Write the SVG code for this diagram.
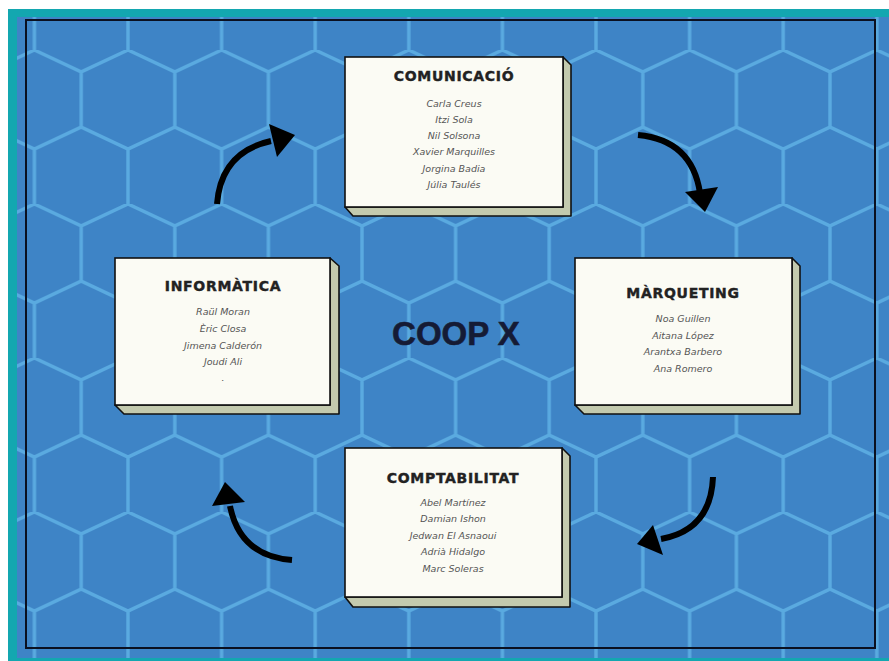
<svg xmlns="http://www.w3.org/2000/svg" width="889" height="661" viewBox="0 0 889 661">
<style>
.face{fill:#fbfbf4;stroke:#111;stroke-width:1.6}
.side{fill:#c3caae;stroke:#111;stroke-width:1.6;stroke-linejoin:round}
.ttl{font-family:"DejaVu Sans",sans-serif;font-weight:bold;font-size:14px;fill:#222;text-anchor:middle;letter-spacing:0.7px;stroke:#222;stroke-width:0.4}
.nm{font-family:"DejaVu Sans",sans-serif;font-style:italic;font-size:9.5px;fill:#555;text-anchor:middle}
.arc{fill:none;stroke:#000;stroke-width:6;stroke-linecap:butt}
.head{fill:#000}
</style>
<defs>
<pattern id="hex" patternUnits="userSpaceOnUse" x="81.2" y="50" width="93.6" height="154">
<path d="M0,22 L46.8,0 L93.6,22 V77 L46.8,99 L0,77 Z M46.8,99 V154" fill="none" stroke="#5aaae0" stroke-width="3.4"/>
</pattern>
</defs>
<rect x="0" y="0" width="889" height="661" fill="#ffffff"/>
<rect x="8" y="9" width="881" height="652" fill="#13a7b0"/>
<rect x="17" y="17" width="872" height="641" fill="#3e84c6"/>
<rect x="17" y="17" width="872" height="641" fill="url(#hex)"/>
<rect x="26" y="20" width="849" height="628" fill="none" stroke="#0a1020" stroke-width="2"/>

<g id="connectors">
<path class="arc" d="M217,204 Q221,152 271,141"/>
<polygon class="head" points="295,135 269,124 277,157"/>
<path class="arc" d="M638,135 Q692,140 700,193"/>
<polygon class="head" points="705,212 685,192 718,187"/>
<path class="arc" d="M713,477 Q711,530 661,539"/>
<polygon class="head" points="637,544 653,525 663,555"/>
<path class="arc" d="M292,560 Q240,556 230,506"/>
<polygon class="head" points="225,482 212,506 245,502"/>
</g>

<g id="comunicacio">
<polygon class="side" points="563,57 571,65 571,216 353,216 345,207 563,207"/>
<rect class="face" x="345" y="57" width="218" height="150"/>
<text class="ttl" x="454" y="81">COMUNICACIÓ</text>
<text class="nm" x="454" y="107">Carla Creus</text>
<text class="nm" x="454" y="123">Itzi Sola</text>
<text class="nm" x="454" y="139">Nil Solsona</text>
<text class="nm" x="454" y="155">Xavier Marquilles</text>
<text class="nm" x="454" y="172">Jorgina Badia</text>
<text class="nm" x="454" y="188">Júlia Taulés</text>
</g>

<g id="informatica">
<polygon class="side" points="330,258 339,266 339,414 124,414 115,405 330,405"/>
<rect class="face" x="115" y="258" width="215" height="147"/>
<text class="ttl" x="223" y="291">INFORMÀTICA</text>
<text class="nm" x="223" y="315">Raül Moran</text>
<text class="nm" x="223" y="332">Èric Closa</text>
<text class="nm" x="223" y="349">Jimena Calderón</text>
<text class="nm" x="223" y="365">Joudi Ali</text>
<text class="nm" x="223" y="381">.</text>
</g>

<g id="marqueting">
<polygon class="side" points="792,258 800,266 800,414 584,414 575,405 792,405"/>
<rect class="face" x="575" y="258" width="217" height="147"/>
<text class="ttl" x="683" y="298">MÀRQUETING</text>
<text class="nm" x="683" y="322">Noa Guillen</text>
<text class="nm" x="683" y="339">Aitana López</text>
<text class="nm" x="683" y="355">Arantxa Barbero</text>
<text class="nm" x="683" y="372">Ana Romero</text>
</g>

<g id="comptabilitat">
<polygon class="side" points="562,448 570,456 570,607 353,607 345,597 562,597"/>
<rect class="face" x="345" y="448" width="217" height="149"/>
<text class="ttl" x="453" y="483">COMPTABILITAT</text>
<text class="nm" x="453" y="506">Abel Martínez</text>
<text class="nm" x="453" y="522">Damian Ishon</text>
<text class="nm" x="453" y="539">Jedwan El Asnaoui</text>
<text class="nm" x="453" y="555">Adrià Hidalgo</text>
<text class="nm" x="453" y="572">Marc Soleras</text>
</g>

<g id="title">
<text x="456" y="345" font-family="Liberation Sans, Arial, sans-serif" font-weight="bold" font-size="33" fill="#151b35" text-anchor="middle" stroke="#151b35" stroke-width="0.6">COOP X</text>
</g>
</svg>
